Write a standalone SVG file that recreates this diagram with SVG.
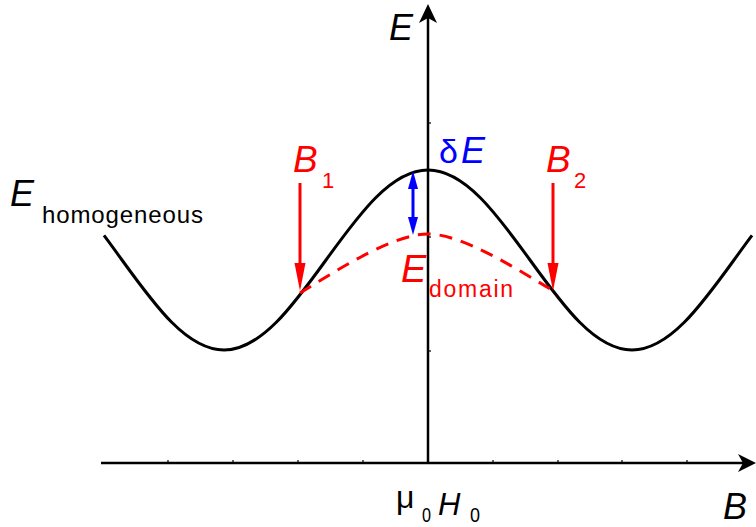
<svg xmlns="http://www.w3.org/2000/svg" width="756" height="527" viewBox="0 0 756 527">
<style>
.t{font-family:"Liberation Sans",Arial,sans-serif}
.it{font-style:italic}
.ax{stroke:#000;stroke-width:2.5;fill:none}
.tick{stroke:#000;stroke-width:1.2}
.red{fill:#ff0000}
.blue{fill:#0000ff}
</style>
<rect width="756" height="527" fill="#fff"/>
<g id="axes">
  <line class="ax" x1="101" y1="463" x2="748" y2="463"/>
  <path d="M756,463 L738,454 L743,463 L738,472 Z" fill="#000"/>
  <line class="ax" x1="428" y1="463" x2="428" y2="12"/>
  <path d="M428,4 L437,23 L428,18 L419,23 Z" fill="#000"/>
  <g class="tick">
    <line x1="168" y1="463" x2="168" y2="460"/>
    <line x1="233" y1="463" x2="233" y2="460"/>
    <line x1="298" y1="463" x2="298" y2="460"/>
    <line x1="363" y1="463" x2="363" y2="460"/>
    <line x1="493" y1="463" x2="493" y2="460"/>
    <line x1="558" y1="463" x2="558" y2="460"/>
    <line x1="622" y1="463" x2="622" y2="460"/>
    <line x1="687" y1="463" x2="687" y2="460"/>
    <line x1="428" y1="351" x2="431" y2="351"/>
    <line x1="428" y1="237" x2="431" y2="237"/>
    <line x1="428" y1="123" x2="431" y2="123"/>
  </g>
</g>
<g id="curves">
  <path id="homogeneous-curve" d="M104,235.4 C110,243.4 116,251.7 122,260 C155.3,306.1 187.2,350 224,350 C260.8,350 292.7,306.1 326,260 C359.3,213.9 391.2,170 428,170 C464.8,170 496.7,213.9 530,260 C563.3,306.1 595.2,350 632,350 C668.8,350 700.7,306.1 734,260 C740,251.7 746,243.4 752,235.4" fill="none" stroke="#000" stroke-width="3"/>
  <path id="domain-curve" d="M300,293 C345,265 395,234 428,234 C461,234 510,265 552,290" fill="none" stroke="#ff0000" stroke-width="3" stroke-dasharray="13,9"/>
</g>
<g id="connectors">
  <g id="arrow-B1">
    <line x1="300" y1="183" x2="300" y2="266" stroke="#ff0000" stroke-width="3"/>
    <path d="M300,291 L294.5,263 L305.5,263 Z" class="red"/>
  </g>
  <g id="arrow-B2">
    <line x1="553" y1="183" x2="553" y2="266" stroke="#ff0000" stroke-width="3"/>
    <path d="M553,291 L547.5,263 L558.5,263 Z" class="red"/>
  </g>
  <g id="arrow-dE">
    <line x1="413" y1="186" x2="413" y2="220" stroke="#0000ff" stroke-width="3"/>
    <path d="M413,171 L408,189 L418,189 Z" class="blue"/>
    <path d="M413,235 L408,217 L418,217 Z" class="blue"/>
  </g>
</g>
<g id="labels">
  <text id="label-E-axis" class="t it" x="389" y="40" font-size="36">E</text>
  <g id="label-Ehom">
    <text class="t it" x="10" y="206" font-size="36">E</text>
    <text class="t" x="42" y="223" font-size="24" textLength="161">homogeneous</text>
  </g>
  <g id="label-dE" class="blue">
    <text class="t" x="439" y="163" font-size="34">δ</text>
    <text class="t it" x="461" y="163" font-size="36">E</text>
  </g>
  <g id="label-B1" class="red">
    <text class="t it" x="293" y="172" font-size="37">B</text>
    <text class="t" x="322" y="188" font-size="22">1</text>
  </g>
  <g id="label-B2" class="red">
    <text class="t it" x="546" y="172" font-size="37">B</text>
    <text class="t" x="574" y="188" font-size="22">2</text>
  </g>
  <g id="label-Edom" class="red">
    <text class="t it" x="401" y="282" font-size="38">E</text>
    <text class="t" x="429" y="297" font-size="23" textLength="84">domain</text>
  </g>
  <g id="label-mu0H0">
    <text class="t" x="396" y="508" font-size="32">μ</text>
    <text class="t" x="422" y="522" font-size="21" textLength="9" lengthAdjust="spacingAndGlyphs">0</text>
    <text class="t it" x="438" y="515" font-size="31">H</text>
    <text class="t" x="470" y="522" font-size="21" textLength="10" lengthAdjust="spacingAndGlyphs">0</text>
  </g>
  <text id="label-B-axis" class="t it" x="723" y="519" font-size="36">B</text>
</g>
</svg>
